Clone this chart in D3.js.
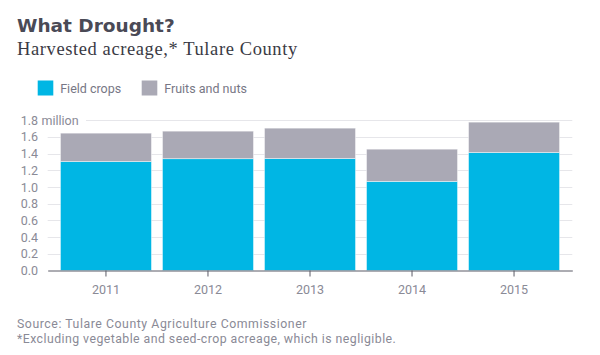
<!DOCTYPE html>
<html>
<head>
<meta charset="utf-8">
<script src="https://cdn.jsdelivr.net/npm/d3@7"></script>
<style>
  html, body { margin: 0; padding: 0; background: #fff; }
  svg { display: block; }
</style>
</head>
<body>
<svg id="chart" width="600" height="355"></svg>
<script>
const years = ["2011", "2012", "2013", "2014", "2015"];
const fieldCrops = [1.306, 1.340, 1.342, 1.068, 1.414];
const fruitsNuts = [0.340, 0.330, 0.364, 0.386, 0.364];
const seriesNames = ["Field crops", "Fruits and nuts"];
const seriesColors = ["#00b6e4", "#aaa9b5"];
const yTicks = [0, 0.2, 0.4, 0.6, 0.8, 1.0, 1.2, 1.4, 1.6, 1.8];

const svg = d3.select("#chart");
const margin = { left: 47.7, right: 572.3, top: 120.3, bottom: 270.5 };

svg.append("text").attr("x", 17).attr("y", 31.5)
  .attr("font-family", "'DejaVu Sans', sans-serif").attr("font-weight", 700)
  .attr("font-size", 18.5).attr("fill", "#4a4a56").text("What Drought?");
svg.append("text").attr("x", 17).attr("y", 54.5)
  .attr("font-family", "'Liberation Serif', serif").attr("letter-spacing", 0.6)
  .attr("font-size", 18.5).attr("fill", "#3a3a44").text("Harvested acreage,* Tulare County");

// legend
const legend = svg.append("g");
const legX = [37.7, 141.7];
seriesNames.forEach((n, i) => {
  legend.append("rect").attr("x", legX[i]).attr("y", 80.5).attr("width", 15.6).attr("height", 15)
    .attr("fill", seriesColors[i]);
  legend.append("text").attr("x", legX[i] + 22.5).attr("y", 92.5)
    .attr("font-family", "Roboto, sans-serif").attr("font-size", 12.5)
    .attr("fill", "#777785").text(n);
});

const x = d3.scaleBand().domain(years).range([margin.left, margin.right])
  .paddingInner(0.108).paddingOuter(0.125);
const y = d3.scaleLinear().domain([0, 1.8]).range([margin.bottom, margin.top]);

// gridlines
svg.append("g").selectAll("line").data(yTicks.filter(d => d > 0)).join("line")
  .attr("x1", d => d === 1.8 ? 86 : margin.left).attr("x2", margin.right)
  .attr("y1", d => Math.round(y(d)) + 0.5).attr("y2", d => Math.round(y(d)) + 0.5)
  .attr("stroke", "#e6e6ea").attr("stroke-width", 1);

// y labels
const yl = svg.append("g").attr("font-family", "Roboto, sans-serif").attr("font-size", 12.5).attr("fill", "#8a8a96");
yl.selectAll("text").data(yTicks).join("text")
  .attr("x", 38).attr("y", d => y(d) + 4.5).attr("text-anchor", "end")
  .text(d => d3.format(".1f")(d));
yl.append("text").attr("x", 41.5).attr("y", y(1.8) + 4.5).text("million");

// stacked bars
const stackData = years.map((yr, i) => ({ year: yr, field: fieldCrops[i], fruits: fruitsNuts[i] }));
const stacked = d3.stack().keys(["field", "fruits"])(stackData);
svg.append("g").selectAll("g").data(stacked).join("g")
  .attr("fill", (d, i) => seriesColors[i])
  .selectAll("rect").data(d => d).join("rect")
  .attr("x", d => x(d.data.year)).attr("width", x.bandwidth())
  .attr("y", d => y(d[1])).attr("height", d => y(d[0]) - y(d[1]))
  .attr("stroke", "rgba(255,255,255,0.55)").attr("stroke-width", 0.8);

// x axis
const xa = svg.append("g").attr("transform", `translate(0,${margin.bottom})`)
  .call(d3.axisBottom(x).tickSize(6).tickSizeOuter(0).tickPadding(9));
xa.select(".domain").attr("stroke", "#5a5a66");
xa.selectAll(".tick line").attr("stroke", "#5a5a66");
xa.selectAll("text").attr("font-family", "Roboto, sans-serif").attr("font-size", 12.5).attr("fill", "#8a8a96");

// footer
svg.append("text").attr("x", 17).attr("y", 328.3)
  .attr("font-family", "Roboto, sans-serif").attr("font-size", 12.3).attr("fill", "#8a8a96")
  .attr("letter-spacing", 0.55)
  .text("Source: Tulare County Agriculture Commissioner");
svg.append("text").attr("x", 17).attr("y", 342.7)
  .attr("font-family", "Roboto, sans-serif").attr("font-size", 12.3).attr("fill", "#8a8a96")
  .attr("letter-spacing", 0.45)
  .text("*Excluding vegetable and seed-crop acreage, which is negligible.");
</script>
</body>
</html>
